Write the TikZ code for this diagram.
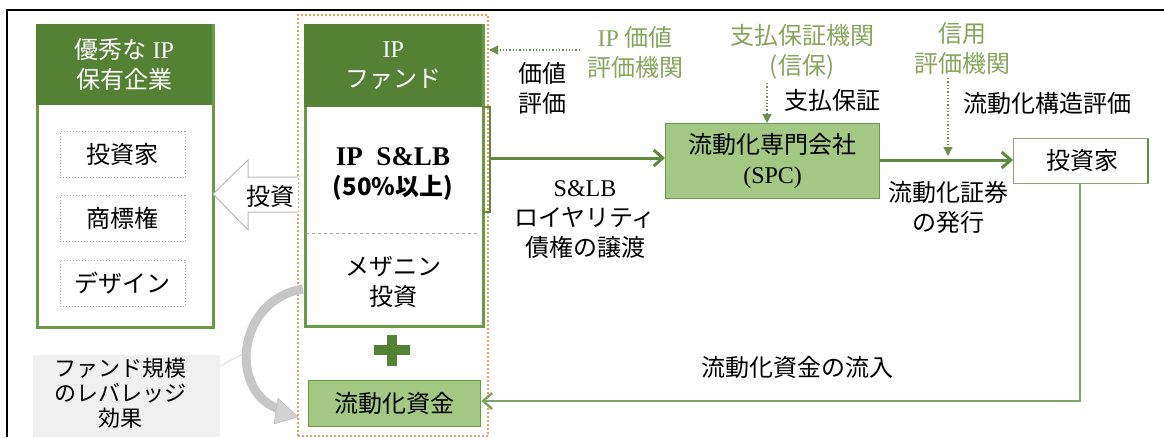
\documentclass[tikz,border=0pt]{standalone}
\usepackage{fontspec}
\setmainfont{Noto Sans CJK JP}
\newfontfamily\lt{Liberation Serif}
\usetikzlibrary{arrows.meta}
\definecolor{dkgreen}{HTML}{548235}
\definecolor{ltgreen}{HTML}{A2C883}
\definecolor{bdgreen}{HTML}{6A9A45}
\definecolor{txgreen}{HTML}{86A55A}
\definecolor{argreen}{HTML}{5E8A3E}
\definecolor{dsgreen}{HTML}{6F8F50}
\definecolor{orng}{HTML}{E8A060}
\newcommand{\fsz}{\fontsize{24}{30}\selectfont}
\tikzset{
  every node/.style={inner sep=0pt, font=\fsz},
  head/.style={fill=dkgreen, text=white, align=center, anchor=north west},
  frame/.style={draw=bdgreen, line width=3pt, anchor=north west},
  ibox/.style={draw=gray!70, dotted, line width=1pt, minimum width=125pt, minimum height=46pt},
  gbox/.style={draw=bdgreen, fill=ltgreen, line width=1.2pt, align=center},
  gtext/.style={text=txgreen, align=center},
  btext/.style={text=black, align=center},
  mainarrow/.style={draw=argreen, line width=3pt, -{Straight Barb[length=9pt,width=16pt]}},
  dasharrow/.style={draw=dsgreen, dotted, line width=1.3pt, -{Triangle[length=9pt,width=9pt]}},
}
\begin{document}
\begin{tikzpicture}[x=1pt,y=-1pt]
\useasboundingbox (0,0) rectangle (1164,437);
% outer frame
\draw[line width=2pt] (7,437) -- (7,10) -- (1164,10);

% left company box
\node[frame, minimum width=176pt, minimum height=302pt] (comp) at (36,24) {};
\node[head, minimum width=176pt, minimum height=81pt] (comphead) at (36,24) {優秀な{\lt\ IP}\\保有企業};
\node[ibox] (inv1) at (122.5,154.5) {投資家};
\node[ibox] (tm) at (122.5,218.5) {商標権};
\node[ibox] (des) at (122.5,283) {デザイン};

% orange dotted group
\node[draw=orng, dotted, line width=2pt, minimum width=190pt, minimum height=421pt, anchor=north west] (grp) at (297,14) {};

% hollow invest arrow
\draw[draw=gray!55, fill=white, line width=1pt] (298,177) -- (248,177) -- (248,160) -- (213,194) -- (248,230) -- (248,212) -- (298,212);
\node (invest) at (270,196) {投資};

% IP fund box
\node[frame, minimum width=178pt, minimum height=301pt] (fund) at (304,24) {};
\node[head, minimum width=178pt, minimum height=83pt] (fundhead) at (304,24) {{\lt IP}\\ファンド};
\draw[gray!70, dashed, line width=0.8pt] (306,233) -- (480,233);
\node[btext, font=\fsz\bfseries] (slb) at (393,174) {{\lt\bfseries\fontsize{27}{30}\selectfont IP\ \ S\&LB}\\(50\%以上)};
\node[btext] (mezz) at (393,282) {メザニン\\投資};

% plus
\fill[dkgreen] (374,345) rectangle (410,355);
\fill[dkgreen] (387,335) rectangle (397,366);

% liquidity fund
\node[gbox, minimum width=172pt, minimum height=46pt, anchor=north west] (liq) at (308,380) {};
\node at (liq.center) {流動化資金};

% bracket
\draw[argreen, line width=2pt] (482,107) -- (490,107) -- (490,212) -- (482,212);
\coordinate (br) at (490,158);

% SPC
\node[gbox, minimum width=214pt, minimum height=75pt, anchor=north west] (spc) at (665,123) {};
\node[btext] at (spc.center) {流動化専門会社\\{\lt (SPC)}};

% right investor
\node[draw=dsgreen!80, line width=1.2pt, minimum width=135pt, minimum height=45pt, anchor=north west] (inv2) at (1013,138) {};
\node at (1082,160) {投資家};
\draw[argreen, line width=2.5pt] (1148,139) -- (1148,183);

% main arrows
\draw[mainarrow] (br) -- (spc.west |- br);
\draw[mainarrow] (spc.east |- 0,160) -- (inv2.west |- 0,160);
\coordinate (corner) at (1080,401);
\draw[draw=argreen!80, line width=2.5pt, -{Straight Barb[length=9pt,width=16pt]}] (1080,183) -- (corner) -- (liq.east |- corner);

% evaluators
\node[gtext] (ipeval) at (635,52) {{\lt IP} 価値\\評価機関};
\draw[dasharrow] (580,50) -- (grp.east |- 0,50);
\node[btext] (kachi) at (542,88) {価値\\評価};

\node[gtext] (guar) at (802,52) {支払保証機関\\(信保)};
\coordinate (g1) at (767,83);
\draw[dasharrow] (g1) -- (spc.north -| g1);
\node[btext] (guartx) at (832,100) {支払保証};

\node[gtext] (credit) at (962,48) {信用\\評価機関};
\coordinate (c1) at (948,78);
\coordinate (c2) at (948,156);
\draw[dasharrow] (c1) -- (c2);
\node[btext] (struct) at (1047,103) {流動化構造評価};

% labels
\node[btext] (issue) at (948,207) {流動化証券\\の発行};
\node[btext] (roy) at (585,220) {{\lt S\&LB}\\ロイヤリティ\\債権の譲渡};
\node[btext] (inflow) at (797,367) {流動化資金の流入};

% leverage box
\node[fill=gray!12, minimum width=187pt, minimum height=82pt, anchor=north west] (lev) at (33,355) {};
\node[btext, font=\fontsize{22}{25}\selectfont] at (120,393) {ファンド規模\\のレバレッジ\\効果};
\draw[gray!25, line width=1pt] (220,366) -- (250,350);

% curved gray arrow
\draw[gray!45, line width=9pt] (303,289) .. controls (235,300) and (228,395) .. (282,410);
\fill[gray!35, draw=gray!60] (278,398) -- (298,417) -- (274,424) -- cycle;
\end{tikzpicture}
\end{document}
